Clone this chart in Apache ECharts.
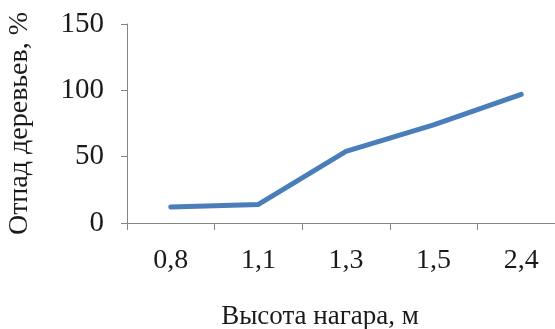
<!DOCTYPE html>
<html>
<head>
<meta charset="utf-8">
<script src="https://cdn.jsdelivr.net/npm/echarts@6/dist/echarts.min.js"></script>
<style>
  html, body { margin: 0; padding: 0; background: #ffffff; }
  #chart { width: 555px; height: 329px; }
</style>
</head>
<body>
<div id="chart"></div>
<script>
// Tree loss versus char height
const categories = ['0,8', '1,1', '1,3', '1,5', '2,4'];
const lossValues = [12, 14, 54, 74, 97];
const yTicks = { min: 0, max: 150, interval: 50 };

const axisColor = '#868686';
const fontFamily = '"Liberation Serif", "Times New Roman", serif';

const chart = echarts.init(document.getElementById('chart'), null, { renderer: 'canvas' });
chart.setOption({
  animation: false,
  backgroundColor: '#ffffff',
  // the category axis runs a little past the right edge of the canvas
  grid: { left: 127, top: 24, width: 438, height: 199, containLabel: false, outerBoundsMode: 'none' },
  xAxis: {
    type: 'category',
    data: categories,
    boundaryGap: true,
    name: 'Высота нагара, м',
    nameLocation: 'middle',
    nameGap: 80,
    nameTextStyle: { fontFamily, fontSize: 27, color: '#1a1a1a', padding: [0, 52, 0, 0] },
    axisLine: { lineStyle: { color: axisColor, width: 1 } },
    axisTick: { show: true, length: 7, alignWithLabel: false, lineStyle: { color: axisColor } },
    axisLabel: { fontFamily, fontSize: 28, color: '#1a1a1a', margin: 24 },
    splitLine: { show: false }
  },
  yAxis: {
    type: 'value',
    min: yTicks.min,
    max: yTicks.max,
    interval: yTicks.interval,
    name: 'Отпад деревьев, %',
    nameLocation: 'middle',
    nameRotate: 90,
    nameGap: 93,
    nameTextStyle: { fontFamily, fontSize: 28, color: '#1a1a1a' },
    axisLine: { show: true, lineStyle: { color: axisColor, width: 1 } },
    axisTick: { show: true, length: 6, lineStyle: { color: axisColor } },
    axisLabel: { fontFamily, fontSize: 29, color: '#1a1a1a', margin: 23 },
    splitLine: { show: false }
  },
  series: [{
    type: 'line',
    data: lossValues,
    symbol: 'none',
    lineStyle: { color: '#4a7ebb', width: 5, cap: 'round', join: 'round' }
  }]
});
</script>
</body>
</html>
